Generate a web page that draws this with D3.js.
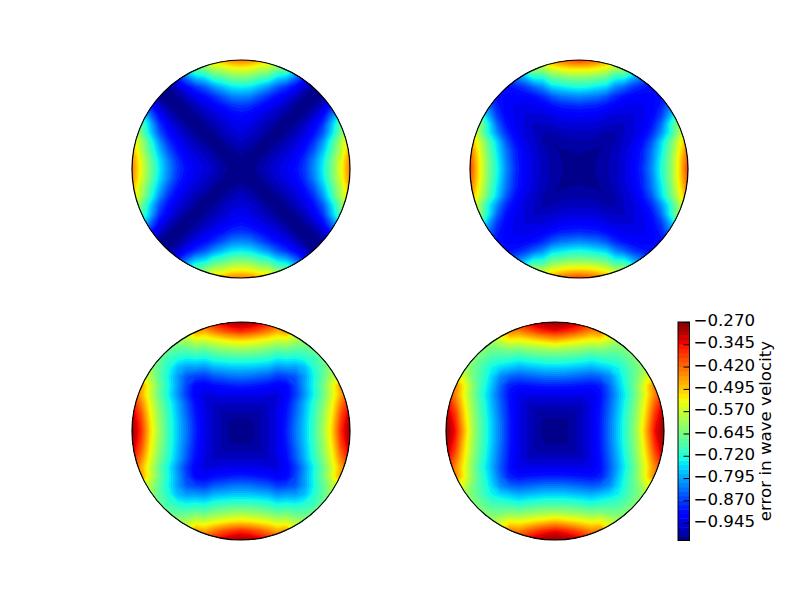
<!DOCTYPE html>
<html>
<head>
<meta charset="utf-8">
<script src="https://cdn.jsdelivr.net/npm/d3@7"></script>
<style>
  html, body { margin: 0; padding: 0; background: #fff; }
  svg { display: block; }
  text { font-family: "DejaVu Sans", sans-serif; }
</style>
</head>
<body>
<svg id="chart" width="800" height="600"></svg>
<script>
const discTopLeft = [
  [-1.0, -.998, -.983, -.961, -.946, -.932, -.909, -.873, -.814, -.740, -.645, -.542, -.432],
  [-1.0, -.990, -.972, -.954, -.939, -.920, -.880, -.821, -.748, -.652, -.549, -.439],
  [-1.0, -.990, -.968, -.954, -.935, -.902, -.851, -.777, -.682, -.579, -.468],
  [-1.0, -.990, -.972, -.950, -.924, -.880, -.807, -.704, -.593, -.490],
  [-1.0, -.990, -.968, -.943, -.909, -.851, -.755, -.645, -.542],
  [-1.0, -.990, -.965, -.932, -.880, -.777, -.667, -.564],
  [-1.0, -.990, -.961, -.917, -.836, -.726, -.623],
  [-1.0, -.990, -.957, -.895, -.799, -.704],
  [-1.0, -.990, -.954, -.880, -.784],
  [-1.0, -.990, -.954, -.873],
  [-1.0, -.990, -.954],
  [-1.0, -.990],
  [-.998],
];
const discTopRight = [
  [-.999, -.996, -.987, -.979, -.965, -.946, -.924, -.880, -.814, -.726, -.637, -.520, -.380],
  [-.996, -.990, -.979, -.965, -.946, -.924, -.887, -.821, -.733, -.637, -.520, -.395],
  [-.992, -.983, -.968, -.950, -.928, -.891, -.829, -.748, -.652, -.535, -.417],
  [-.990, -.976, -.957, -.939, -.906, -.851, -.762, -.667, -.557, -.454],
  [-.976, -.961, -.946, -.924, -.884, -.814, -.726, -.608, -.498],
  [-.961, -.946, -.932, -.906, -.843, -.733, -.608, -.513],
  [-.946, -.935, -.917, -.876, -.792, -.674, -.586],
  [-.932, -.924, -.895, -.829, -.748, -.674],
  [-.920, -.906, -.873, -.814, -.755],
  [-.895, -.873, -.843, -.799],
  [-.865, -.843, -.799],
  [-.821, -.784],
  [-.748],
];
const discBottomLeft = [
  [-1.0, -.998, -.979, -.961, -.939, -.891, -.829, -.770, -.696, -.608, -.505, -.366, -.285],
  [-.996, -.979, -.961, -.939, -.895, -.832, -.770, -.696, -.615, -.513, -.380, -.292],
  [-.979, -.961, -.939, -.902, -.843, -.777, -.704, -.623, -.527, -.402, -.314],
  [-.961, -.943, -.909, -.851, -.784, -.711, -.637, -.542, -.432, -.344],
  [-.946, -.924, -.873, -.807, -.733, -.660, -.564, -.468, -.380],
  [-.917, -.865, -.799, -.726, -.652, -.557, -.454, -.395],
  [-.851, -.799, -.733, -.667, -.593, -.527, -.468],
  [-.777, -.718, -.667, -.608, -.557, -.520],
  [-.696, -.652, -.615, -.571, -.542],
  [-.623, -.601, -.571, -.549],
  [-.593, -.579, -.564],
  [-.571, -.564],
  [-.557],
];
const discBottomRight = [
  [-1.0, -.996, -.983, -.961, -.939, -.895, -.829, -.762, -.689, -.601, -.476, -.344, -.277],
  [-.996, -.983, -.961, -.939, -.895, -.829, -.762, -.689, -.608, -.490, -.358, -.285],
  [-.983, -.961, -.939, -.898, -.836, -.770, -.696, -.615, -.505, -.380, -.299],
  [-.961, -.939, -.902, -.843, -.777, -.704, -.623, -.520, -.410, -.321],
  [-.939, -.906, -.851, -.784, -.718, -.637, -.535, -.439, -.358],
  [-.895, -.840, -.770, -.704, -.630, -.527, -.432, -.373],
  [-.814, -.755, -.696, -.645, -.564, -.505, -.461],
  [-.733, -.689, -.645, -.601, -.549, -.513],
  [-.660, -.630, -.601, -.564, -.535],
  [-.608, -.586, -.564, -.542],
  [-.579, -.564, -.549],
  [-.557, -.549],
  [-.542],
];

const tickValues = [-0.27, -0.345, -0.42, -0.495, -0.57, -0.645, -0.72, -0.795, -0.87, -0.945];
const levelMin = -1.005;
const levelMax = -0.27;
const levelStep = 0.015;
const levels = d3.range(0, 50).map((k) => levelMin + k * levelStep);

const radius = 109;
const discs = [
  { cx: 241, cy: 169, octant: discTopLeft },
  { cx: 579, cy: 169, octant: discTopRight },
  { cx: 241, cy: 431, octant: discBottomLeft },
  { cx: 555, cy: 431, octant: discBottomRight },
];

// matplotlib's jet, channel by channel
const jetR = d3.scaleLinear().domain([0, 0.35, 0.66, 0.89, 1]).range([0, 0, 1, 1, 0.5]);
const jetG = d3.scaleLinear().domain([0, 0.125, 0.375, 0.64, 0.91, 1]).range([0, 0, 1, 1, 0, 0]);
const jetB = d3.scaleLinear().domain([0, 0.11, 0.34, 0.65, 1]).range([0.5, 1, 1, 0, 0]);
function jet(t) {
  return d3.rgb(jetR(t) * 255, jetG(t) * 255, jetB(t) * 255).formatHex();
}
const bandColor = (k) => jet((k + 0.5) / (levels.length - 1));

// unfold one octant into the full square grid
function unfold(octant) {
  const m = octant.length - 1;
  const n = 2 * m + 1;
  const grid = new Array(n * n);
  for (let y = 0; y < n; y++) {
    for (let x = 0; x < n; x++) {
      const a = Math.abs(x - m);
      const b = Math.abs(y - m);
      const lo = Math.min(a, b);
      const hi = Math.max(a, b);
      grid[y * n + x] = octant[lo][hi - lo];
    }
  }
  return { grid, n };
}

const svg = d3.select("#chart");
const defs = svg.append("defs");

discs.forEach((disc, idx) => {
  const { grid, n } = unfold(disc.octant);
  const x = d3.scaleLinear().domain([0.5, n - 0.5]).range([disc.cx - radius, disc.cx + radius]);
  const y = d3.scaleLinear().domain([0.5, n - 0.5]).range([disc.cy - radius, disc.cy + radius]);
  const path = d3.geoPath(d3.geoTransform({
    point(px, py) { this.stream.point(x(px), y(py)); },
  }));

  defs.append("clipPath").attr("id", `clip${idx}`)
    .append("circle").attr("cx", disc.cx).attr("cy", disc.cy).attr("r", radius);

  const contours = d3.contours().size([n, n]).thresholds(levels.slice(0, -1))(grid);
  const g = svg.append("g").attr("clip-path", `url(#clip${idx})`);
  g.selectAll("path")
    .data(contours)
    .join("path")
    .attr("d", path)
    .attr("fill", (d, k) => bandColor(k));

  svg.append("circle")
    .attr("cx", disc.cx).attr("cy", disc.cy).attr("r", radius)
    .attr("fill", "none").attr("stroke", "#000").attr("stroke-width", 1.2);
});

// colour bar
const barX = 678;
const barW = 11.5;
const barY = d3.scaleLinear().domain([levelMin, levelMax]).range([540.5, 322]);

svg.append("g").selectAll("rect")
  .data(levels.slice(0, -1))
  .join("rect")
  .attr("x", barX)
  .attr("width", barW)
  .attr("y", (d) => barY(d + levelStep))
  .attr("height", (d) => barY(d) - barY(d + levelStep) + 0.5)
  .attr("fill", (d, k) => bandColor(k));

svg.append("rect")
  .attr("x", barX).attr("y", 322).attr("width", barW).attr("height", 218.5)
  .attr("fill", "none").attr("stroke", "#000").attr("stroke-width", 1);

const axis = d3.axisRight(barY)
  .tickValues(tickValues)
  .tickSize(0)
  .tickPadding(4)
  .tickFormat((d) => "\u2212" + d3.format(".3f")(Math.abs(d)));

const axisG = svg.append("g").attr("transform", `translate(${barX + barW},0)`).call(axis);
axisG.select(".domain").remove();
axisG.selectAll("text")
  .attr("font-size", 16.67)
  .attr("font-family", "DejaVu Sans")
  .attr("fill", "#000")
  .attr("dy", "0.22em");
axisG.selectAll(".tick line")
  .attr("x1", -6).attr("x2", 0).attr("stroke", "#000").attr("stroke-width", 1);

svg.append("text")
  .attr("transform", "translate(771,431) rotate(-90)")
  .attr("text-anchor", "middle")
  .attr("font-size", 16.67)
  .attr("fill", "#000")
  .text("error in wave velocity");
</script>
</body>
</html>
